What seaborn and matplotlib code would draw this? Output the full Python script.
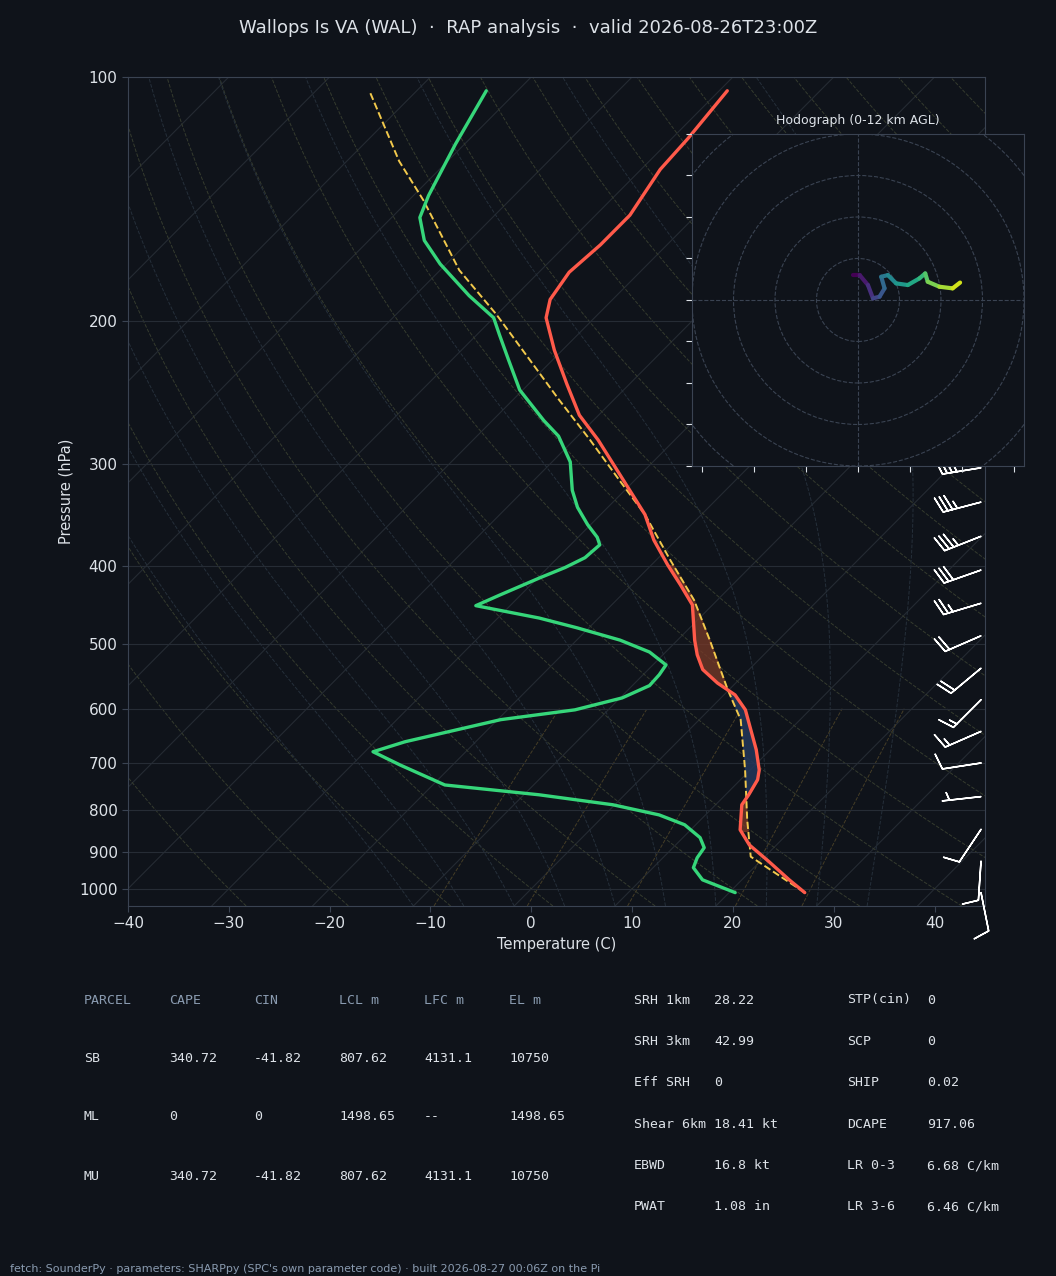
import numpy as np
import matplotlib
matplotlib.use("Agg")
import matplotlib.pyplot as plt
import seaborn as sns
from matplotlib.ticker import FixedLocator, NullLocator, NullFormatter

# --- sounding values ---
temp_p = [1011, 975, 926, 883, 846, 788, 766, 734, 714, 674, 637, 602, 577, 558, 537, 515, 494,
          447, 422, 399, 372, 346, 323, 301, 280, 261, 239, 217, 198, 188, 174, 161, 148, 130, 119, 104]
temp_c = [27.5, 24.7, 20.9, 17.3, 14.9, 12.6, 12.3, 11.7, 10.9, 8.6, 6.1, 3.6, 1.1, -1.8, -4.6, -6.6, -8.3,
          -12.0, -15.2, -18.4, -22.2, -25.6, -29.5, -33.5, -37.6, -41.9, -46.2, -50.8, -54.8, -56.2, -57.0,
          -56.6, -56.6, -58.1, -58.4, -59.2]
dew_p = [1011, 975, 942, 916, 890, 865, 834, 811, 788, 766, 745, 704, 678, 659, 619, 602, 582, 562, 545,
         530, 511, 494, 477, 464, 448, 435, 414, 402, 391, 377, 369, 356, 339, 323, 298, 277, 265, 243,
         223, 208, 198, 186, 170, 159, 149, 140, 121, 104]
dew_c = [20.6, 16.1, 14.0, 13.4, 13.1, 11.7, 8.9, 5.4, -0.2, -8.5, -18.8, -25.2, -29.2, -27.0, -19.7,
         -13.3, -9.8, -8.3, -8.4, -8.7, -11.6, -15.7, -21.2, -25.9, -33.4, -32.1, -29.8, -28.3, -27.3,
         -27.1, -28.1, -30.3, -33.0, -35.2, -38.2, -41.9, -44.9, -50.3, -54.4, -57.7, -60.0, -64.6,
         -70.6, -74.5, -77.2, -78.5, -80.9, -83.1]
parcel_p = [1011, 913, 822, 714, 619, 569, 494, 441, 393, 346, 314, 280, 250, 223, 196, 173, 142, 127, 104]
parcel_c = [27.5, 18.6, 14.6, 9.5, 4.1, -0.1, -6.8, -12.3, -18.7, -25.6, -31.5, -38.4, -45.4, -52.3,
            -60.1, -68.1, -78.5, -84.8, -94.7]

# winds (kt) 0-12 km, with pressure of each level
wind_p = [1011, 925, 845, 770, 700, 640, 585, 535, 488, 445, 405, 368, 334, 303, 275, 249]
wind_u = [-2.4, 0.8, 4.8, 7.2, 10.4, 12.8, 11.2, 14.4, 18.4, 24.0, 29.6, 32.4, 33.6, 39.2, 45.6, 49.2]
wind_v = [12.0, 12.0, 7.2, 0.8, 1.6, 5.6, 11.2, 12.0, 8.0, 7.2, 10.4, 12.8, 8.8, 6.4, 5.6, 8.4]
wind_h = np.linspace(0, 12, len(wind_u))

p_ticks = [100, 200, 300, 400, 500, 600, 700, 800, 900, 1000]
SKEW = 80.0

parcels = ["SB", "ML", "MU"]
cape = ["340.72", "0", "340.72"]
cin = ["-41.82", "0", "-41.82"]
lcl = ["807.62", "1498.65", "807.62"]
lfc = ["4131.1", "--", "4131.1"]
el = ["10750", "1498.65", "10750"]
idx_a = [("SRH 1km", "28.22"), ("SRH 3km", "42.99"), ("Eff SRH", "0"),
         ("Shear 6km", "18.41 kt"), ("EBWD", "16.8 kt"), ("PWAT", "1.08 in")]
idx_b = [("STP(cin)", "0"), ("SCP", "0"), ("SHIP", "0.02"),
         ("DCAPE", "917.06"), ("LR 0-3", "6.68 C/km"), ("LR 3-6", "6.46 C/km")]

BG = "#0f131a"
FG = "#dde2e8"
MUTED = "#8a9bb0"
SPINE = "#3a4352"

sns.set_style("dark", {"axes.facecolor": BG, "figure.facecolor": BG, "axes.edgecolor": SPINE,
                       "text.color": FG, "axes.labelcolor": FG, "xtick.color": FG, "ytick.color": FG,
                       "xtick.bottom": True, "ytick.left": True})
plt.rcParams["font.family"] = ["DejaVu Sans"]


def skx(t, p):
    return np.asarray(t, float) + SKEW * np.log10(1000.0 / np.asarray(p, float))


fig = plt.figure(figsize=(10.56, 12.76), dpi=100)
ax = fig.add_axes([0.1212, 0.29, 0.8116, 0.6497])
ax.set_yscale("log")
ax.set_ylim(1050, 100)
ax.set_xlim(-40, 45)

# background lines
pp = np.geomspace(1050, 100, 200)
for t in range(-140, 60, 10):
    ax.plot(skx(np.full_like(pp, t), pp), pp, color="#252b33", lw=0.8, zorder=1)
for th in range(-30, 200, 10):
    tk = (th + 273.15) * (pp / 1000.0) ** 0.2857 - 273.15
    ax.plot(skx(tk, pp), pp, color="#353b2e", lw=0.7, ls="--", zorder=1)
# moist adiabats (simple integration)
pm = np.geomspace(1050, 100, 300)
for t0 in range(-10, 40, 5):
    T = t0 + 273.15
    out = []
    for i, p in enumerate(pm):
        out.append(T - 273.15)
        if i + 1 < len(pm):
            es = 6.112 * np.exp(17.67 * (T - 273.15) / (T - 29.65))
            rs = 0.622 * es / (p - es)
            gam = (287 * T + 2.5e6 * rs) / (1004 + 2.5e6 ** 2 * rs * 0.622 / (287 * T * T)) / p
            T += gam * (pm[i + 1] - p)
    ax.plot(skx(out, pm), pm, color="#252f3a", lw=0.7, ls="--", zorder=1)
pw = np.geomspace(1050, 600, 50)
for w in [2, 4, 8, 16, 24]:
    e = pw * w / 1000.0 / (0.622 + w / 1000.0)
    td = 243.5 * np.log(e / 6.112) / (17.67 - np.log(e / 6.112))
    ax.plot(skx(td, pw), pw, color="#453d26", lw=0.7, ls="--", zorder=1)
for p in p_ticks:
    ax.axhline(p, color="#262c35", lw=0.8, zorder=1)

# CAPE / CIN shading
pg = np.geomspace(850, 400, 300)
tg = np.interp(np.log(pg)[::-1], np.log(temp_p[::-1]), temp_c[::-1])[::-1]
pcg = np.interp(np.log(pg)[::-1], np.log(parcel_p[::-1]), parcel_c[::-1])[::-1]
ax.fill_betweenx(pg, skx(tg, pg), skx(pcg, pg), where=pcg > tg, color="#7a3a28", alpha=0.75, zorder=2)
ax.fill_betweenx(pg, skx(tg, pg), skx(pcg, pg), where=pcg < tg, color="#22375c", alpha=0.85, zorder=2)

sns.lineplot(x=skx(temp_c, temp_p), y=temp_p, sort=False, estimator=None, color="#ff5a4a", lw=2.4, ax=ax, zorder=4)
sns.lineplot(x=skx(dew_c, dew_p), y=dew_p, sort=False, estimator=None, color="#36d67a", lw=2.4, ax=ax, zorder=4)
sns.lineplot(x=skx(parcel_c, parcel_p), y=parcel_p, sort=False, estimator=None, color="#f2c94c", lw=1.4,
             ls="--", ax=ax, zorder=3)

bp = np.array(wind_p)
mask = bp >= 300
ax.barbs(np.full(mask.sum(), 44.6), bp[mask], np.array(wind_u)[mask], np.array(wind_v)[mask],
         color="white", length=7.5, lw=1.1, zorder=5, clip_on=False)

ax.yaxis.set_major_locator(FixedLocator(p_ticks))
ax.yaxis.set_major_formatter(plt.FixedFormatter([str(p) for p in p_ticks]))
ax.yaxis.set_minor_locator(NullLocator())
ax.yaxis.set_minor_formatter(NullFormatter())
ax.set_xticks(range(-40, 45, 10))
ax.tick_params(labelsize=11, length=4, color=SPINE)
ax.set_xlabel("Temperature (C)", fontsize=10.5)
ax.set_ylabel("Pressure (hPa)", fontsize=10.5)
ax.grid(False)

# hodograph inset
hx = fig.add_axes([0.6553, 0.6348, 0.3144, 0.2602])
hx.set_facecolor(BG)
for r in range(20, 120, 20):
    hx.add_patch(plt.Circle((0, 0), r, fill=False, color="#3a4352", ls="--", lw=0.8))
hx.axhline(0, color="#3a4352", ls="--", lw=0.8)
hx.axvline(0, color="#3a4352", ls="--", lw=0.8)
cmap = plt.get_cmap("viridis")
for i in range(len(wind_u) - 1):
    hx.plot(wind_u[i:i + 2], wind_v[i:i + 2], color=cmap(wind_h[i] / 12), lw=3.0, solid_capstyle="round")
hx.set_xlim(-80, 80)
hx.set_ylim(-80, 80)
hx.set_xticks(range(-75, 80, 25))
hx.set_yticks(range(-80, 81, 20))
hx.tick_params(labelbottom=False, labelleft=False, color=FG, length=4, bottom=True, left=True)
hx.set_title("Hodograph (0-12 km AGL)", fontsize=9, color=FG, pad=7)
for s in hx.spines.values():
    s.set_color(SPINE)

fig.text(0.5, 0.978, "Wallops Is VA (WAL)  ·  RAP analysis  ·  valid 2026-08-26T23:00Z",
         ha="center", va="center", fontsize=13, color=FG)

mono = "DejaVu Sans Mono"
cols = [84, 169, 254, 339, 424, 509]
heads = ["PARCEL", "CAPE", "CIN", "LCL m", "LFC m", "EL m"]
for x, h in zip(cols, heads):
    fig.text(x / 1056, 1 - 1000 / 1276, h, family=mono, fontsize=9.5, color=MUTED, va="center")
for r, row in enumerate(zip(parcels, cape, cin, lcl, lfc, el)):
    y = 1 - (1058 + r * 59) / 1276
    for x, v in zip(cols, row):
        fig.text(x / 1056, y, v, family=mono, fontsize=9.5, color=FG, va="center")
for r in range(6):
    y = 1 - (1000 + r * 41.4) / 1276
    for (x0, x1), (k, v) in [((634, 714), idx_a[r]), ((847, 927), idx_b[r])]:
        fig.text(x0 / 1056, y, k, family=mono, fontsize=9.5, color=FG, va="center")
        fig.text(x1 / 1056, y, v, family=mono, fontsize=9.5, color=FG, va="center")

fig.text(10 / 1056, 1 - 1269 / 1276,
         "fetch: SounderPy · parameters: SHARPpy (SPC's own parameter code) · built 2026-08-27 00:06Z on the Pi",
         fontsize=8, color=MUTED, va="center")

fig.savefig("out.png", dpi=100, facecolor=BG)
